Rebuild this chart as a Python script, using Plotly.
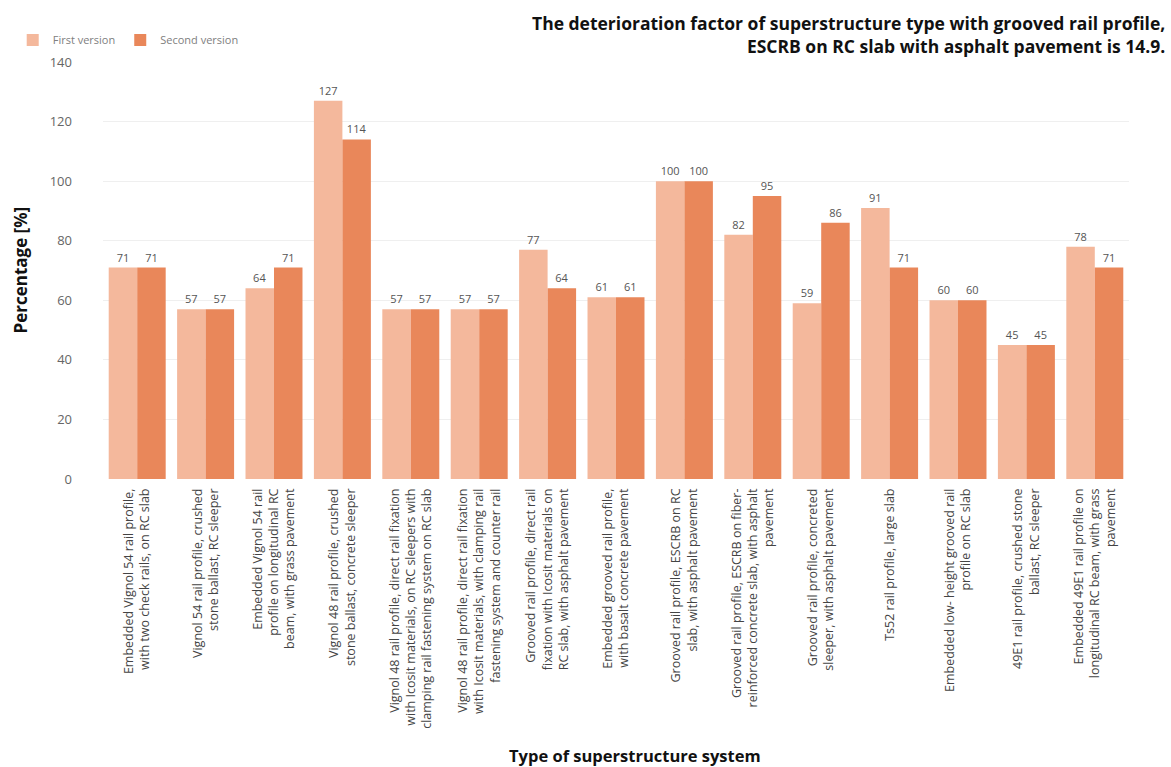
import plotly.graph_objects as go

categories = [
    "Embedded Vignol 54 rail profile,<br>with two check rails, on RC slab",
    "Vignol 54 rail profile, crushed<br>stone ballast, RC sleeper",
    "Embedded Vignol 54 rail<br>profile on longitudinal RC<br>beam, with grass pavement",
    "Vignol 48 rail profile, crushed<br>stone ballast, concrete sleeper",
    "Vignol 48 rail profile, direct rail fixation<br>with Icosit materials, on RC sleepers with<br>clamping rail fastening system on RC slab",
    "Vignol 48 rail profile, direct rail fixation<br>with Icosit materials, with clamping rail<br>fastening system and counter rail",
    "Grooved rail profile, direct rail<br>fixation with Icosit materials on<br>RC slab, with asphalt pavement",
    "Embedded grooved rail profile,<br>with basalt concrete pavement",
    "Grooved rail profile, ESCRB on RC<br>slab, with asphalt pavement",
    "Grooved rail profile, ESCRB on fiber-<br>reinforced concrete slab, with asphalt<br>pavement",
    "Grooved rail profile, concreted<br>sleeper, with asphalt pavement",
    "Ts52 rail profile, large slab",
    "Embedded low- height grooved rail<br>profile on RC slab",
    "49E1 rail profile, crushed stone<br>ballast, RC sleeper",
    "Embedded 49E1 rail profile on<br>longitudinal RC beam, with grass<br>pavement",
]
first_version = [71, 57, 64, 127, 57, 57, 77, 61, 100, 82, 59, 91, 60, 45, 78]
second_version = [71, 57, 71, 114, 57, 57, 64, 61, 100, 95, 86, 71, 60, 45, 71]
y_ticks = [0, 20, 40, 60, 80, 100, 120, 140]

FONT = "Open Sans"
GRAY = "#555555"

fig = go.Figure()
fig.add_trace(go.Bar(
    name="First version", x=categories, y=first_version,
    marker=dict(color="#F4B89C", line=dict(width=0)),
    text=first_version, textposition="outside", cliponaxis=False,
    textfont=dict(family=FONT, size=11, color=GRAY),
))
fig.add_trace(go.Bar(
    name="Second version", x=categories, y=second_version,
    marker=dict(color="#E9875A", line=dict(width=0)),
    text=second_version, textposition="outside", cliponaxis=False,
    textfont=dict(family=FONT, size=11, color=GRAY),
))

fig.update_layout(
    width=1171, height=767,
    margin=dict(l=103, r=42, t=62, b=288, autoexpand=False),
    paper_bgcolor="white", plot_bgcolor="white",
    barmode="group", bargap=0.167, bargroupgap=0,
    font=dict(family=FONT, size=11, color=GRAY),
    legend=dict(
        orientation="h", x=-0.088, y=1.0 + 22 / 417, xanchor="left", yanchor="middle",
        font=dict(family=FONT, size=11, color="#808080"),
        bgcolor="rgba(0,0,0,0)", itemwidth=30, tracegroupgap=0,
    ),
    xaxis=dict(
        tickangle=-90, tickfont=dict(family=FONT, size=12.5, color="#444444"),
        showgrid=False, showline=False, ticks="", ticklabelstandoff=6,
    ),
    yaxis=dict(
        range=[0, 140], tickvals=y_ticks, showgrid=True, gridcolor="#EFEFEF",
        gridwidth=1, zeroline=False, showline=False, ticks="",
        tickfont=dict(family=FONT, size=13, color="#666666"),
        ticklabelstandoff=30,
    ),
    annotations=[
        dict(text="<b>The deterioration factor of superstructure type with grooved rail profile,<br>ESCRB on RC slab with asphalt pavement is 14.9.</b>",
             xref="paper", yref="paper", x=(1167 - 103) / 1026, y=1.0 + (62 - 9) / 417,
             xanchor="right", yanchor="top", align="right", showarrow=False,
             font=dict(family=FONT, size=17.5, color="#111111")),
        dict(text="<b>Percentage [%]</b>", textangle=-90,
             xref="paper", yref="paper", x=(20 - 103) / 1026, y=0.5,
             xanchor="center", yanchor="middle", showarrow=False,
             font=dict(family=FONT, size=17, color="#111111")),
        dict(text="<b>Type of superstructure system</b>",
             xref="paper", yref="paper", x=(635 - 103) / 1026, y=(479 - 755) / 417,
             xanchor="center", yanchor="middle", showarrow=False,
             font=dict(family=FONT, size=16.5, color="#111111")),
    ],
)

fig.write_html(
    "out.html",
    config={"displayModeBar": False},
    post_script="document.body.style.margin='0';document.body.style.overflow='hidden';",
)
